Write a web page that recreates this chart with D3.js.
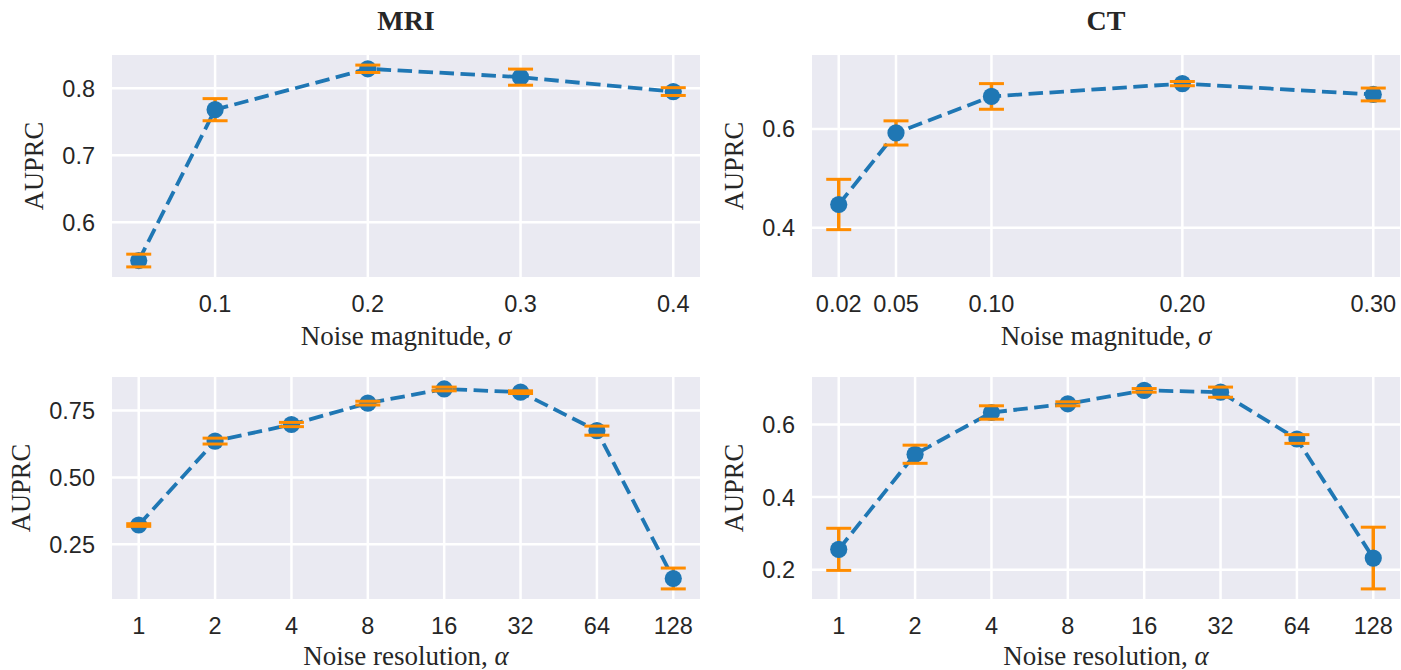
<!DOCTYPE html>
<html>
<head>
<meta charset="utf-8">
<script src="https://cdn.jsdelivr.net/npm/d3@7"></script>
<style>
  html, body { margin: 0; padding: 0; background: #ffffff; }
  svg { display: block; }
</style>
</head>
<body>
<script>
// ---------- data ----------
const sigmaMRI = [0.05, 0.1, 0.2, 0.3, 0.4];
const mriSigmaMean = [0.543, 0.768, 0.829, 0.8165, 0.795];
const mriSigmaErr = [0.0095, 0.0165, 0.0055, 0.012, 0.0058];
const mriSigmaXTicks = [0.1, 0.2, 0.3, 0.4];
const mriSigmaYTicks = [0.6, 0.7, 0.8];

const sigmaCT = [0.02, 0.05, 0.10, 0.20, 0.30];
const ctSigmaMean = [0.447, 0.592, 0.666, 0.692, 0.670];
const ctSigmaErr = [0.051, 0.0245, 0.026, 0.0043, 0.013];
const ctSigmaXTicks = [0.02, 0.05, 0.10, 0.20, 0.30];
const ctSigmaYTicks = [0.4, 0.6];
const ctSigmaYLim = [0.3, 0.75];

const alphaLabels = ["1", "2", "4", "8", "16", "32", "64", "128"];
const mriAlphaMean = [0.322, 0.636, 0.698, 0.778, 0.831, 0.819, 0.675, 0.122];
const mriAlphaErr = [0.005, 0.011, 0.008, 0.007, 0.007, 0.005, 0.017, 0.039];
const mriAlphaYTicks = [0.25, 0.50, 0.75];

const ctAlphaMean = [0.256, 0.518, 0.633, 0.657, 0.694, 0.689, 0.560, 0.232];
const ctAlphaErr = [0.058, 0.025, 0.0185, 0.0055, 0.005, 0.014, 0.012, 0.085];
const ctAlphaYTicks = [0.2, 0.4, 0.6];

const columnTitles = ["MRI", "CT"];

// ---------- layout ----------
const W = 1401, H = 670;
const svg = d3.select("body").append("svg").attr("width", W).attr("height", H);

const colX = [112, 812], panelW = 588;
const rowY = [55, 377], panelH = 222;
const xLabelOffset = [68, 66];

const BLUE = "#1f77b4", ORANGE = "#ff8c00", BG = "#eaeaf2", TXT = "#262626";
const sansFont = "'Liberation Sans', Arial, Helvetica, sans-serif";
const serifFont = "'Liberation Serif', 'Times New Roman', Times, serif";

function pad(ext, f = 0.05) { const r = ext[1] - ext[0]; return [ext[0] - r * f, ext[1] + r * f]; }

function panel(opts) {
  const { col, row, xs, means, errs, xTicks, yTicks, yTickFmt, yLim, xLabel, xLabelSym } = opts;
  const x0 = colX[col], y0 = rowY[row];
  const g = svg.append("g").attr("transform", `translate(${x0},${y0})`);

  const xDom = pad(d3.extent(xs));
  const lo = d3.min(means.map((m, i) => m - errs[i]));
  const hi = d3.max(means.map((m, i) => m + errs[i]));
  const yDom = yLim || pad([lo, hi]);

  const x = d3.scaleLinear().domain(xDom).range([0, panelW]);
  const y = d3.scaleLinear().domain(yDom).range([panelH, 0]);

  g.append("rect").attr("width", panelW).attr("height", panelH).attr("fill", BG);

  // grid
  g.selectAll(".gy").data(yTicks).enter().append("line")
    .attr("x1", 0).attr("x2", panelW)
    .attr("y1", d => y(d)).attr("y2", d => y(d))
    .attr("stroke", "#fff").attr("stroke-width", 2.5);
  g.selectAll(".gx").data(xTicks).enter().append("line")
    .attr("y1", 0).attr("y2", panelH)
    .attr("x1", d => x(d.v)).attr("x2", d => x(d.v))
    .attr("stroke", "#fff").attr("stroke-width", 2.5);

  // tick labels
  g.selectAll(".xt").data(xTicks).enter().append("text")
    .attr("x", d => x(d.v)).attr("y", panelH + 35)
    .attr("text-anchor", "middle").attr("font-family", sansFont)
    .attr("font-size", 23.5).attr("fill", TXT).text(d => d.label);
  const yt = g.selectAll(".yt").data(yTicks).enter().append("text")
    .attr("x", -17).attr("y", d => y(d)).attr("dy", "0.36em")
    .attr("text-anchor", "end").attr("font-family", sansFont)
    .attr("font-size", 23.5).attr("fill", TXT).text(d => yTickFmt(d));
  let maxW = 0;
  yt.each(function () { maxW = Math.max(maxW, this.getComputedTextLength()); });

  // y label
  g.append("text")
    .attr("transform", `translate(${-17 - maxW - 19},${panelH / 2}) rotate(-90)`)
    .attr("text-anchor", "middle").attr("font-family", serifFont)
    .attr("font-size", 26.5).attr("fill", TXT).text("AUPRC");

  // x label
  const xl = g.append("text")
    .attr("x", panelW / 2).attr("y", panelH + xLabelOffset[row])
    .attr("text-anchor", "middle").attr("font-family", serifFont)
    .attr("font-size", 27).attr("fill", TXT);
  xl.append("tspan").text(xLabel + " ");
  xl.append("tspan").attr("font-style", "italic").text(xLabelSym);

  const pts = xs.map((v, i) => ({ x: v, m: means[i], e: errs[i] }));

  // error bars (vertical)
  g.selectAll(".eb").data(pts).enter().append("line")
    .attr("x1", d => x(d.x)).attr("x2", d => x(d.x))
    .attr("y1", d => y(d.m - d.e)).attr("y2", d => y(d.m + d.e))
    .attr("stroke", ORANGE).attr("stroke-width", 3.5);

  // dashed line
  g.append("path").datum(pts)
    .attr("d", d3.line().x(d => x(d.x)).y(d => y(d.m)))
    .attr("fill", "none").attr("stroke", BLUE).attr("stroke-width", 3.8)
    .attr("stroke-dasharray", "14.5,6.5");

  // markers
  g.selectAll(".mk").data(pts).enter().append("circle")
    .attr("cx", d => x(d.x)).attr("cy", d => y(d.m)).attr("r", 8.6)
    .attr("fill", BLUE);

  // caps
  pts.forEach(d => {
    [d.m - d.e, d.m + d.e].forEach(v => {
      g.append("line")
        .attr("x1", x(d.x) - 12.5).attr("x2", x(d.x) + 12.5)
        .attr("y1", y(v)).attr("y2", y(v))
        .attr("stroke", ORANGE).attr("stroke-width", 3);
    });
  });
}

const alphaIdx = alphaLabels.map((_, i) => i);

panel({
  col: 0, row: 0, xs: sigmaMRI, means: mriSigmaMean, errs: mriSigmaErr,
  xTicks: mriSigmaXTicks.map(v => ({ v, label: d3.format(".1f")(v) })),
  yTicks: mriSigmaYTicks, yTickFmt: d3.format(".1f"),
  xLabel: "Noise magnitude,", xLabelSym: "σ"
});
panel({
  col: 1, row: 0, xs: sigmaCT, means: ctSigmaMean, errs: ctSigmaErr,
  xTicks: ctSigmaXTicks.map(v => ({ v, label: d3.format(".2f")(v) })),
  yTicks: ctSigmaYTicks, yTickFmt: d3.format(".1f"), yLim: ctSigmaYLim,
  xLabel: "Noise magnitude,", xLabelSym: "σ"
});
panel({
  col: 0, row: 1, xs: alphaIdx, means: mriAlphaMean, errs: mriAlphaErr,
  xTicks: alphaLabels.map((l, i) => ({ v: i, label: l })),
  yTicks: mriAlphaYTicks, yTickFmt: d3.format(".2f"),
  xLabel: "Noise resolution,", xLabelSym: "α"
});
panel({
  col: 1, row: 1, xs: alphaIdx, means: ctAlphaMean, errs: ctAlphaErr,
  xTicks: alphaLabels.map((l, i) => ({ v: i, label: l })),
  yTicks: ctAlphaYTicks, yTickFmt: d3.format(".1f"),
  xLabel: "Noise resolution,", xLabelSym: "α"
});

// column titles
svg.selectAll(".title").data(columnTitles).enter().append("text")
  .attr("x", (d, i) => colX[i] + panelW / 2).attr("y", 30)
  .attr("text-anchor", "middle").attr("font-family", serifFont)
  .attr("font-weight", "bold").attr("font-size", 28).attr("fill", TXT)
  .text(d => d);
</script>
</body>
</html>
